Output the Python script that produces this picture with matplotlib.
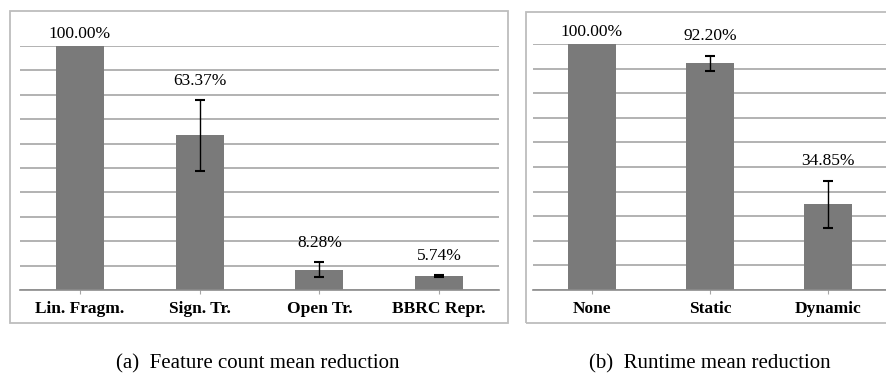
import matplotlib
matplotlib.use("Agg")
import matplotlib.pyplot as plt
from matplotlib.patches import Rectangle

plt.rcParams["font.family"] = ["Liberation Serif", "DejaVu Serif"]

# left panel: feature count
feat_cats = ["Lin. Fragm.", "Sign. Tr.", "Open Tr.", "BBRC Repr."]
feat_vals = [100.00, 63.37, 8.28, 5.74]
feat_errs = [0.0, 14.5, 3.1, 0.4]

# right panel: runtime
run_cats = ["None", "Static", "Dynamic"]
run_vals = [100.00, 92.20, 34.85]
run_errs = [0.0, 3.0, 9.6]

W, H = 887, 378
BAR = "#7a7a7a"
GRID = "#a6a6a6"
FRAME = "#bdbdbd"

fig = plt.figure(figsize=(W / 100, H / 100), dpi=100)


def px_box(x0, y0, x1, y1):
    # pixel box (top-left origin) -> figure fraction rect
    return [x0 / W, 1 - y1 / H, (x1 - x0) / W, (y1 - y0) / H]


def panel(rect, frame, cats, vals, errs, caption, cap_x):
    fr = px_box(*frame)
    fig.add_artist(Rectangle((fr[0], fr[1]), fr[2], fr[3], transform=fig.transFigure,
                             facecolor="none", edgecolor=FRAME, linewidth=1.3))
    ax = fig.add_axes(px_box(*rect))
    x = list(range(len(cats)))
    ax.bar(x, vals, width=0.4, color=BAR, zorder=2)
    # only bars that actually have a spread get an error bar
    ex = [(xi, v, e) for xi, v, e in zip(x, vals, errs) if e > 0]
    ax.errorbar([t[0] for t in ex], [t[1] for t in ex], yerr=[t[2] for t in ex],
                fmt="none", ecolor="black", elinewidth=1.0,
                capsize=3.6, capthick=1.5, zorder=3)
    for xi, v, e in zip(x, vals, errs):
        off = 14 if e > 0 else 8.5
        ax.annotate(f"{v:.2f}%", (xi, v + e), xytext=(0, off), textcoords="offset points",
                    ha="center", va="center", fontsize=12.5)
    ax.set_xlim(-0.5, len(cats) - 0.5)
    ax.set_ylim(0, 100)
    ax.set_yticks(range(0, 101, 10))
    ax.yaxis.set_tick_params(length=0, labelleft=False)
    ax.grid(axis="y", color=GRID, linewidth=1.2, zorder=0)
    ax.set_axisbelow(True)
    for s in ["top", "left", "right"]:
        ax.spines[s].set_visible(False)
    ax.spines["bottom"].set_color("#8c8c8c")
    ax.spines["bottom"].set_linewidth(1.2)
    ax.set_xticks(x)
    ax.set_xticklabels(cats, fontsize=12.5, fontweight="bold")
    ax.tick_params(axis="x", length=3, color=GRID, pad=5)
    ax.patch.set_alpha(0)
    fig.text(cap_x / W, 1 - 364 / H, caption, ha="center", va="center", fontsize=15)
    return ax


panel((20, 46, 499, 290), (10, 11, 508, 323), feat_cats, feat_vals, feat_errs,
      "(a)  Feature count mean reduction", 258)
panel((533, 44, 887, 290), (526, 12, 900, 323), run_cats, run_vals, run_errs,
      "(b)  Runtime mean reduction", 710)

fig.savefig("out.png", dpi=100)
